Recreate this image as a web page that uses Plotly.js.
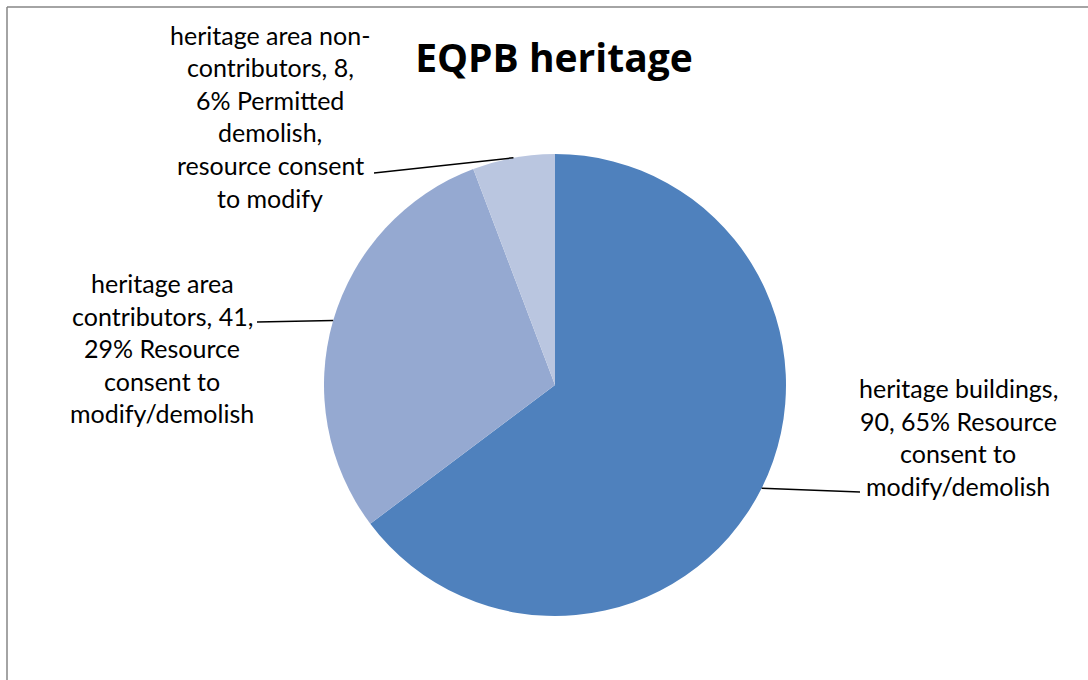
<!DOCTYPE html>
<html>
<head>
<meta charset="utf-8">
<script src="https://cdn.plot.ly/plotly-3.0.1.min.js"></script>
<style>html,body{margin:0;padding:0;background:#fff;}#chart{width:1088px;height:680px;}</style>
</head>
<body>
<div id="chart"></div>
<script>
// ---- data ----
const categories = ["heritage buildings", "heritage area contributors", "heritage area non-contributors"];
const values = [90, 41, 8];
const percents = [65, 29, 6];
const notes = ["Resource consent to modify/demolish", "Resource consent to modify/demolish", "Permitted demolish, resource consent to modify"];
const colors = ["#4F81BD", "#95A9D1", "#BAC6E0"];
const labelLines = [
  ["heritage buildings,", "90, 65% Resource", "consent to", "modify/demolish"],
  ["heritage area", "contributors, 41,", "29% Resource", "consent to", "modify/demolish"],
  ["heritage area non-", "contributors, 8,", "6% Permitted", "demolish,", "resource consent", "to modify"]
];
const chartTitle = "EQPB heritage";

// ---- layout helpers (pixel -> paper) ----
const W = 1088, H = 680;
const px = x => x / W;
const py = y => 1 - y / H;
const cx = 555, cy = 385, R = 231;
const FONT = "Lato, 'Open Sans', sans-serif";

// label placement: [center x, first line y, leader end x, leader end y]
const labelPos = [
  [958, 388, 860, 492],
  [162, 283, 257, 322],
  [270, 35, 374, 173]
];
const lineGap = 32.5;

const total = values.reduce((a, b) => a + b, 0);
const annotations = [];
const shapes = [];
let cum = 0;
values.forEach((v, i) => {
  const mid = (cum + v / 2) / total * 2 * Math.PI; // clockwise from top
  cum += v;
  const ex = cx + R * Math.sin(mid), ey = cy - R * Math.cos(mid);
  const p = labelPos[i];
  shapes.push({type: "line", xref: "paper", yref: "paper",
    x0: px(ex), y0: py(ey), x1: px(p[2]), y1: py(p[3]),
    line: {color: "#000", width: 1.5}});
  labelLines[i].forEach((t, k) => {
    annotations.push({xref: "paper", yref: "paper", x: px(p[0]), y: py(p[1] + k * lineGap),
      xanchor: "center", yanchor: "middle", showarrow: false, text: t,
      font: {family: FONT, size: 25, color: "#000"}});
  });
});

// chart border (top and left edges)
shapes.push({type: "line", xref: "paper", yref: "paper", x0: px(7), y0: py(7), x1: px(1100), y1: py(7), line: {color: "#868686", width: 1.5}});
shapes.push({type: "line", xref: "paper", yref: "paper", x0: px(7), y0: py(7), x1: px(7), y1: py(700), line: {color: "#868686", width: 1.5}});

const trace = {
  type: "pie",
  labels: categories,
  values: values,
  sort: false,
  direction: "clockwise",
  rotation: 0,
  textinfo: "none",
  hoverinfo: "label+value+percent",
  marker: {colors: colors, line: {width: 0}},
  domain: {x: [px(cx - R), px(cx + R)], y: [py(cy + R), py(cy - R)]},
  showlegend: false
};

const layout = {
  width: W, height: H,
  margin: {l: 0, r: 0, t: 0, b: 0},
  paper_bgcolor: "#fff",
  title: {text: "<b>" + chartTitle + "</b>", x: px(554), xanchor: "center", y: py(58), yanchor: "middle",
    font: {family: "'Open Sans', Lato, sans-serif", size: 39, color: "#000"}},
  annotations: annotations,
  shapes: shapes,
  showlegend: false
};

Plotly.newPlot("chart", [trace], layout, {displayModeBar: false, staticPlot: true});
</script>
</body>
</html>
